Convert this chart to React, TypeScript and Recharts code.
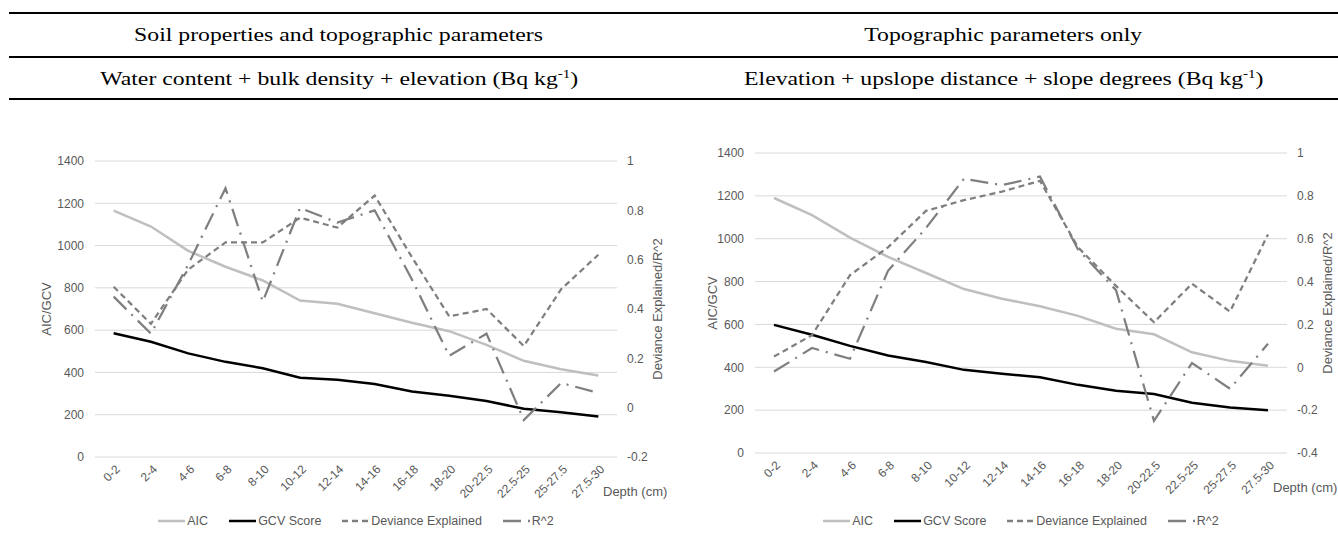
import React from 'react';
import { LineChart, Line, XAxis, YAxis, CartesianGrid, Legend } from 'recharts';

// depth classes (cm)
const depths = ['0-2', '2-4', '4-6', '6-8', '8-10', '10-12', '12-14', '14-16', '16-18', '18-20', '20-22.5', '22.5-25', '25-27.5', '27.5-30'];

// soil properties + topographic parameters
const aicSoil = [1165, 1090, 975, 900, 835, 740, 725, 680, 635, 595, 530, 455, 415, 385];
const gcvSoil = [585, 545, 490, 450, 420, 375, 365, 345, 310, 290, 265, 228, 212, 192];
const devSoil = [0.49, 0.34, 0.56, 0.67, 0.67, 0.77, 0.73, 0.86, 0.61, 0.37, 0.4, 0.25, 0.48, 0.62];
const r2Soil = [0.45, 0.3, 0.58, 0.89, 0.43, 0.81, 0.75, 0.8, 0.52, 0.21, 0.3, -0.05, 0.1, 0.06];

// topographic parameters only
const aicTopo = [1190, 1110, 1005, 915, 840, 765, 720, 685, 640, 580, 554, 470, 430, 407];
const gcvTopo = [598, 552, 500, 455, 425, 388, 370, 353, 318, 290, 275, 235, 212, 200];
const devTopo = [0.05, 0.15, 0.43, 0.56, 0.73, 0.78, 0.82, 0.87, 0.56, 0.38, 0.21, 0.39, 0.26, 0.62];
const r2Topo = [-0.02, 0.09, 0.04, 0.45, 0.65, 0.88, 0.85, 0.89, 0.55, 0.36, -0.25, 0.02, -0.1, 0.11];

const leftTicks = [0, 200, 400, 600, 800, 1000, 1200, 1400];
const rightTicksSoil = [-0.2, 0, 0.2, 0.4, 0.6, 0.8, 1];
const rightTicksTopo = [-0.4, -0.2, 0, 0.2, 0.4, 0.6, 0.8, 1];

const TEXT = '#595959';
const FONT = '"Liberation Sans", Arial, sans-serif';

const SERIES = [
    { key: 'aic', name: 'AIC', axis: 'left', color: '#bfbfbf', dash: undefined, width: 2.5 },
    { key: 'gcv', name: 'GCV Score', axis: 'left', color: '#000000', dash: undefined, width: 2.5 },
    { key: 'dev', name: 'Deviance Explained', axis: 'right', color: '#7f7f7f', dash: '6 4', width: 2.25 },
    { key: 'r2', name: 'R^2', axis: 'right', color: '#7f7f7f', dash: '18 7 2 7', width: 2.25 },
];

function buildRows(aic: number[], gcv: number[], dev: number[], r2: number[]) {
    return depths.map((d, i) => ({ depth: d, aic: aic[i], gcv: gcv[i], dev: dev[i], r2: r2[i] }));
}

function DepthTick({ x, y, payload }: any) {
    const tx = x + 4;
    const ty = y + 2;
    return (
        <text
            x={tx}
            y={ty}
            dy="0.35em"
            textAnchor="end"
            fill={TEXT}
            fontSize={12}
            fontFamily={FONT}
            transform={`rotate(-45, ${tx}, ${ty})`}
        >
            {payload.value}
        </text>
    );
}

const verticalTitle = (text: string, dx: number) => (props: any) => {
    const vb = props.viewBox;
    const cx = vb.x + dx;
    const cy = vb.y + vb.height / 2;
    return (
        <text
            x={cx}
            y={cy}
            transform={`rotate(-90, ${cx}, ${cy})`}
            textAnchor="middle"
            dominantBaseline="central"
            fill={TEXT}
            fontSize={13}
            fontFamily={FONT}
        >
            {text}
        </text>
    );
};

const depthTitle = (props: any) => {
    const vb = props.viewBox;
    return (
        <text x={vb.x + vb.width - 14} y={vb.y + 34} dominantBaseline="central" fill={TEXT} fontSize={13} fontFamily={FONT}>
            Depth (cm)
        </text>
    );
};

function LegendContent({ payload }: any) {
    // keep the series order, not the alphabetical one
    const items = SERIES.map((s) => (payload || []).find((p: any) => p.dataKey === s.key)).filter(Boolean);
    return (
        <div style={{ display: 'flex', justifyContent: 'center', gap: 21, fontSize: 12.5, fontFamily: FONT, color: TEXT }}>
            {items.map((entry: any) => {
                const s = SERIES.find((x) => x.key === entry.dataKey);
                return (
                    <span key={entry.dataKey} style={{ display: 'flex', alignItems: 'center' }}>
                        <svg width={27} height={10}>
                            <line x1={0} y1={5} x2={27} y2={5} stroke={entry.color} strokeWidth={2.5} strokeDasharray={s?.dash} />
                        </svg>
                        <span style={{ marginLeft: 2 }}>{entry.value}</span>
                    </span>
                );
            })}
        </div>
    );
}

function ModelChart({
    data,
    rightTicks,
    top,
    leftW,
    rightW,
    xHeight,
}: {
    data: any[];
    rightTicks: number[];
    top: number;
    leftW: number;
    rightW: number;
    xHeight: number;
}) {
    const width = 669;
    const height = 433;
    const plotW = width - leftW - rightW;
    const band = plotW / depths.length;
    return (
        <LineChart width={width} height={height} data={data} margin={{ top, right: 0, bottom: 0, left: 0 }}>
            <CartesianGrid yAxisId="left" vertical={false} stroke="#d9d9d9" />
            <XAxis
                dataKey="depth"
                axisLine={false}
                tickLine={false}
                interval={0}
                height={xHeight}
                padding={{ left: band / 2, right: band / 2 }}
                tick={<DepthTick />}
                label={depthTitle}
            />
            <YAxis
                yAxisId="left"
                width={leftW}
                domain={[0, 1400]}
                ticks={leftTicks}
                axisLine={false}
                tickLine={false}
                tickMargin={5}
                tick={{ fill: TEXT, fontSize: 12, fontFamily: FONT }}
                label={verticalTitle('AIC/GCV', leftW === 95 ? 46 : 43)}
            />
            <YAxis
                yAxisId="right"
                orientation="right"
                width={rightW}
                domain={[rightTicks[0], 1]}
                ticks={rightTicks}
                axisLine={false}
                tickLine={false}
                tickMargin={4}
                tick={{ fill: TEXT, fontSize: 12, fontFamily: FONT, textAnchor: 'start' }}
                label={verticalTitle('Deviance Explained/R^2', 40)}
            />
            <Legend
                layout="horizontal"
                verticalAlign="middle"
                content={<LegendContent />}
                wrapperStyle={{ top: 414, left: leftW, width: plotW }}
            />
            {SERIES.map((s) => (
                <Line
                    key={s.key}
                    yAxisId={s.axis}
                    type="linear"
                    dataKey={s.key}
                    name={s.name}
                    stroke={s.color}
                    strokeWidth={s.width}
                    strokeDasharray={s.dash}
                    dot={false}
                    activeDot={false}
                    isAnimationActive={false}
                />
            ))}
        </LineChart>
    );
}

const line = (top: number) => (
    <div style={{ position: 'absolute', left: 9, width: 1329, top, height: 2, background: '#000' }} />
);

const cell = (left: number, width: number, top: number, height: number, content: React.ReactNode) => (
    <div
        style={{
            position: 'absolute',
            left,
            width,
            top,
            height,
            display: 'flex',
            alignItems: 'center',
            justifyContent: 'center',
            fontFamily: '"Liberation Serif", "Times New Roman", serif',
            fontSize: 19,
            color: '#000',
            whiteSpace: 'nowrap',
        }}
    >
        <span style={{ display: 'inline-block', transform: 'scaleX(1.25)' }}>{content}</span>
    </div>
);

export default function App() {
    const soilRows = buildRows(aicSoil, gcvSoil, devSoil, r2Soil);
    const topoRows = buildRows(aicTopo, gcvTopo, devTopo, r2Topo);
    return (
        <div style={{ position: 'relative', width: 1338, height: 533, background: '#fff', overflow: 'hidden' }}>
            <style>{'body{margin:0}'}</style>
            {line(12)}
            {line(56)}
            {line(98)}
            {cell(9, 660, 14, 42, 'Soil properties and topographic parameters')}
            {cell(669, 669, 14, 42, 'Topographic parameters only')}
            {cell(9, 660, 58, 40, <span>Water content + bulk density + elevation (Bq kg<sup style={{ fontSize: 12 }}>-1</sup>)</span>)}
            {cell(669, 669, 58, 40, <span>Elevation + upslope distance + slope degrees (Bq kg<sup style={{ fontSize: 12 }}>-1</sup>)</span>)}
            <div style={{ position: 'absolute', left: 0, top: 100 }}>
                <ModelChart data={soilRows} rightTicks={rightTicksSoil} top={61} leftW={95} rightW={52} xHeight={76} />
            </div>
            <div style={{ position: 'absolute', left: 669, top: 100 }}>
                <ModelChart data={topoRows} rightTicks={rightTicksTopo} top={53} leftW={86} rightW={51} xHeight={80} />
            </div>
        </div>
    );
}
